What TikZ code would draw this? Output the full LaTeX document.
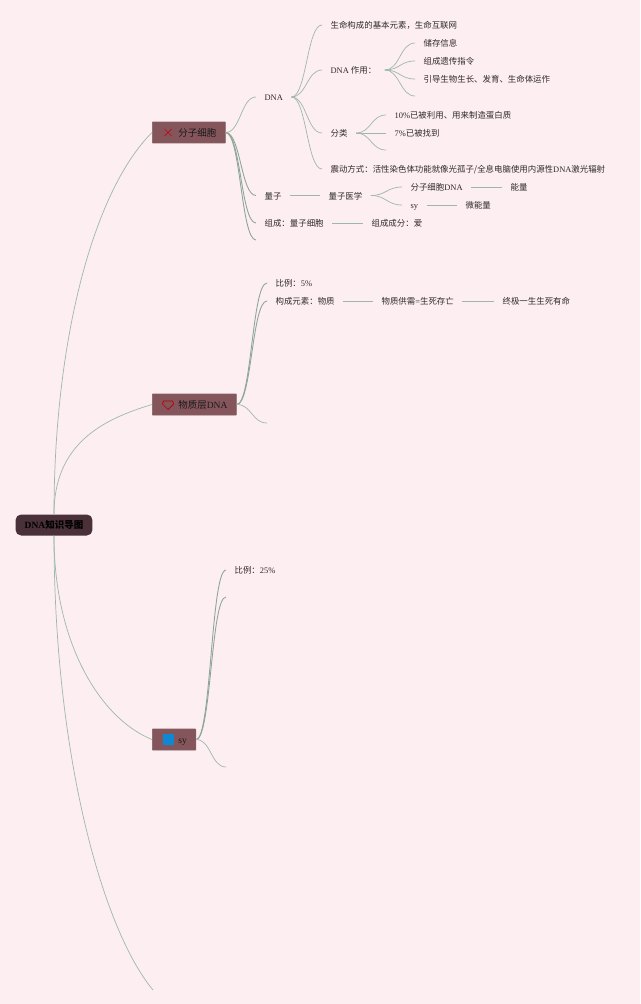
\documentclass[tikz,border=0pt]{standalone}
\usepackage{fontspec}
\setmainfont{Liberation Serif}
\newfontfamily\cjk{Noto Sans CJK SC}
\newcommand{\zh}[1]{{\cjk #1}}
\definecolor{paper}{HTML}{FDEEF1}
\definecolor{wire}{HTML}{9DB8A9}
\definecolor{topicfill}{HTML}{85555C}
\definecolor{rootfill}{HTML}{4A3038}
\definecolor{inktext}{HTML}{2F2A2A}
\tikzset{
    leaf/.style={anchor=west,inner xsep=.165cm,inner ysep=0pt,text height=.18cm,text depth=.03cm,text=inktext,font=\fontsize{4.8}{6}\selectfont},
    topic/.style={anchor=west,draw=topicfill!80!gray,fill=topicfill,rounded corners=.3pt,inner xsep=.18cm,inner ysep=0pt,minimum height=.42cm,text height=.19cm,text depth=.03cm,text=black!90,font=\fontsize{5.4}{6.5}\selectfont},
    wirea/.style={draw=wire,line width=.4pt},
    wireb/.style={draw=wire!90!black,line width=.5pt},
    link/.style={out=0,in=180,distance=.3cm}
}

\begin{document}
\begin{tikzpicture}[x=0.02cm,y=-0.02cm]
    \fill[paper] (0,0) rectangle (640,1004);
    \useasboundingbox (0,0) rectangle (640,1004);

    % main topics
    \node[anchor=center,fill=rootfill,rounded corners=3.2pt,minimum width=1.54cm,minimum height=.42cm,inner sep=0pt,text=black,font=\fontsize{5.4}{6.5}\selectfont\bfseries] (root) at (54,525) {DNA\zh{知识导图}};
    \node[topic] (cell) at (152,132.5) {\hspace*{.34cm}\zh{分子细胞}};
    \node[topic] (matter) at (152,404.5) {\hspace*{.34cm}\zh{物质层}DNA};
    \node[topic] (sy) at (152,739.5) {\hspace*{.34cm}sy};
    \coordinate (tail) at (153,990);

    \draw[red!75!black!85!topicfill,line width=.4pt] (164.5,129) -- (171.5,136) (171.5,129) -- (164.5,136);
    \draw[red!70!black,line width=.4pt] (163.5,401) -- (172.5,401) -- (173.5,404) -- (168,409.5) -- (162.5,404) -- cycle;
    \fill[cyan!70!blue] (163,733.5) rectangle (174,745);

    % first topic
    \node[leaf] (dna) at (256,97) {DNA};
    \node[leaf] (liang) at (256,195.5) {\zh{量子}};
    \node[leaf] (zucheng) at (256,223) {\zh{组成：量子细胞}};
    \coordinate (cellend) at (256,240);
    \node[leaf] (base) at (322,25) {\zh{生命构成的基本元素，生命互联网}};
    \node[leaf] (role) at (322,70) {DNA \zh{作用：}};
    \node[leaf] (kind) at (322,133) {\zh{分类}};
    \node[leaf] (shake) at (322,169) {\zh{震动方式：活性染色体功能就像光孤子/全息电脑使用内源性}DNA\zh{激光辐射}};
    \node[leaf] (store) at (415,43) {\zh{储存信息}};
    \node[leaf] (gene) at (415,61) {\zh{组成遗传指令}};
    \node[leaf] (grow) at (415,79) {\zh{引导生物生长、发育、生命体运作}};
    \coordinate (roleend) at (415,96);
    \node[leaf] (used) at (386,115) {10\%\zh{已被利用、用来制造蛋白质}};
    \node[leaf] (found) at (386,133) {7\%\zh{已被找到}};
    \coordinate (kindend) at (386,150);
    \node[leaf] (med) at (320,195.5) {\zh{量子医学}};
    \node[leaf] (celldna) at (402,187) {\zh{分子细胞}DNA};
    \node[leaf] (syleaf) at (402,205) {sy};
    \node[leaf] (energy) at (502,187) {\zh{能量}};
    \node[leaf] (micro) at (457,205) {\zh{微能量}};
    \node[leaf] (love) at (363,223) {\zh{组成成分：爱}};

    % second topic
    \node[leaf] (ratioa) at (267,283) {\zh{比例：}5\%};
    \node[leaf] (stuff) at (267,301) {\zh{构成元素：物质}};
    \node[leaf] (supply) at (373,301) {\zh{物质供需}=\zh{生死存亡}};
    \node[leaf] (final) at (494,301) {\zh{终极一生生死有命}};
    \coordinate (matterend) at (267,423);

    % third topic
    \node[leaf] (ratiob) at (226,570) {\zh{比例：}25\%};
    \coordinate (syup) at (226,597);
    \coordinate (syend) at (226,767);

    % connectors
    \draw[wirea] (root.north) .. controls +(0,-170) and +(-60,60) .. (cell.west);
    \draw[wirea] (root.north) .. controls +(0,-70) and +(-50,15) .. (matter.west);
    \draw[wirea] (root.south) .. controls +(0,110) and +(-50,-20) .. (sy.west);
    \draw[wirea] (root.south) .. controls +(0,220) and +(-50,-60) .. (tail);

    \draw[wirea] (cell.east) to[link] (dna.west);
    \draw[wireb] (cell.east) to[link] (liang.west);
    \draw[wireb] (cell.east) to[link] (zucheng.west);
    \draw[wireb] (cell.east) to[link] (cellend);
    \foreach \kid in {base,role,kind,shake} \draw[wirea] (dna.east) to[link] (\kid.west);
    \foreach \kid in {store,gene,grow} \draw[wirea] (role.east) to[link] (\kid.west);
    \draw[wirea] (role.east) to[link] (roleend);
    \foreach \kid in {used,found} \draw[wirea] (kind.east) to[link] (\kid.west);
    \draw[wirea] (kind.east) to[link] (kindend);
    \foreach \kid in {celldna,syleaf} \draw[wirea] (med.east) to[link] (\kid.west);

    \draw[wirea] (liang.east) -- (med.west);
    \draw[wirea] (celldna.east) -- (energy.west);
    \draw[wirea] (syleaf.east) -- (micro.west);
    \draw[wirea] (zucheng.east) -- (love.west);

    \draw[wireb] (matter.east) to[link] (ratioa.west);
    \draw[wireb] (matter.east) to[link] (stuff.west);
    \draw[wirea] (matter.east) to[link] (matterend);
    \draw[wirea] (stuff.east) -- (supply.west);
    \draw[wirea] (supply.east) -- (final.west);

    \draw[wireb] (sy.east) to[link] (ratiob.west);
    \draw[wireb] (sy.east) to[link] (syup);
    \draw[wirea] (sy.east) to[link] (syend);
\end{tikzpicture}
\end{document}
